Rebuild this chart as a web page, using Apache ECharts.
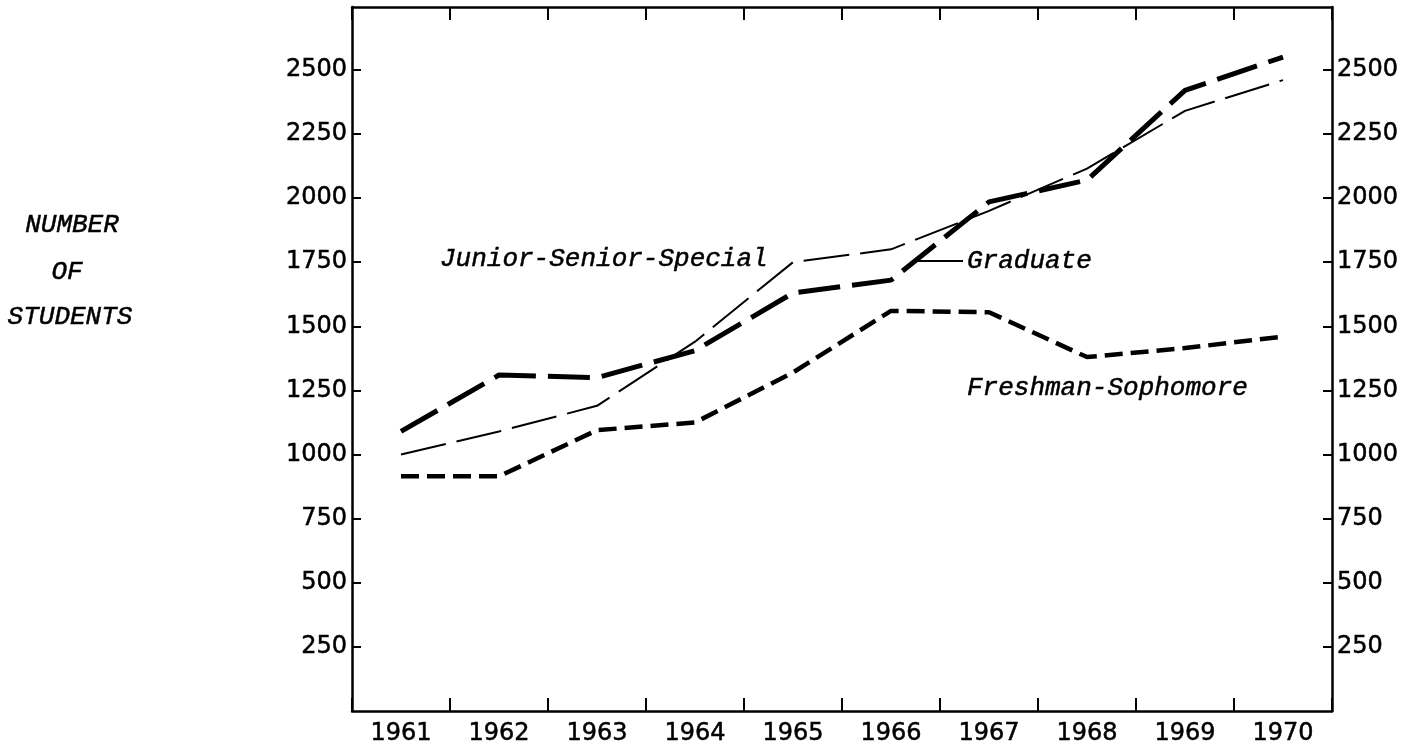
<!DOCTYPE html>
<html>
<head>
<meta charset="utf-8">
<script src="https://cdn.jsdelivr.net/npm/echarts@6/dist/echarts.min.js"></script>
<style>
  html, body { margin: 0; padding: 0; background: #fff; }
  #chart { width: 1414px; height: 751px; }
</style>
</head>
<body>
<div id="chart"></div>
<script>
const chart = echarts.init(document.getElementById('chart'));

// data
const years = ['1961', '1962', '1963', '1964', '1965', '1966', '1967', '1968', '1969', '1970'];
const graduate = [1090, 1310, 1300, 1405, 1630, 1680, 1985, 2070, 2420, 2550];
const juniorSenior = [1000, 1090, 1190, 1440, 1750, 1800, 1950, 2115, 2340, 2460];
const freshSoph = [915, 915, 1095, 1125, 1320, 1560, 1555, 1380, 1415, 1460];

const yTicks = [250, 500, 750, 1000, 1250, 1500, 1750, 2000, 2250, 2500];
const titleLines = ['NUMBER', 'OF', 'STUDENTS'];

const axisFont = 'DejaVu Sans';
const typeFont = 'Liberation Mono';

function tickLabel(v) {
	return yTicks.indexOf(v) >= 0 ? String(v) : '';
}

function valueAxis(pos) {
	return {
		type: 'value',
		position: pos,
		min: 0,
		max: 2745,
		interval: 250,
		splitLine: { show: false },
		axisLine: { show: true, onZero: false, lineStyle: { color: '#000', width: 2.5 } },
		axisTick: { show: true, inside: true, length: 9, lineStyle: { color: '#000', width: 2 } },
		axisLabel: {
			show: true,
			margin: 5,
			color: '#000',
			fontFamily: axisFont,
			fontSize: 24,
			textBorderColor: '#000',
			textBorderWidth: 0.5,
			showMinLabel: false,
			showMaxLabel: false,
			formatter: tickLabel
		}
	};
}

function catAxis(pos, labels) {
	return {
		type: 'category',
		position: pos,
		data: years,
		boundaryGap: true,
		axisLine: { show: true, onZero: false, lineStyle: { color: '#000', width: 2.5 } },
		axisTick: { show: true, inside: true, length: 13, interval: 0, lineStyle: { color: '#000', width: 2 } },
		axisLabel: {
			show: labels,
			interval: 0,
			margin: 11,
			color: '#000',
			fontFamily: axisFont,
			fontSize: 24,
			textBorderColor: '#000',
			textBorderWidth: 0.5
		},
		splitLine: { show: false }
	};
}

function typed(text, x, y, align) {
	return {
		type: 'text',
		x: x,
		y: y,
		style: {
			text: text,
			fill: '#000',
			font: 'italic 26px "' + typeFont + '"',
			stroke: '#000',
			lineWidth: 0.5,
			align: align || 'left',
			verticalAlign: 'middle'
		}
	};
}

const option = {
	backgroundColor: '#fff',
	animation: false,
	grid: { left: 352, right: 82, top: 7, bottom: 40 },
	xAxis: [catAxis('bottom', true), catAxis('top', false)],
	yAxis: [valueAxis('left'), valueAxis('right')],
	series: [
		{
			name: 'Graduate',
			type: 'line',
			data: graduate,
			symbol: 'none',
			lineStyle: { color: '#000', width: 5, type: [42, 12] }
		},
		{
			name: 'Junior-Senior-Special',
			type: 'line',
			data: juniorSenior,
			symbol: 'none',
			lineStyle: { color: '#000', width: 2, type: [46, 11] }
		},
		{
			name: 'Freshman-Sophomore',
			type: 'line',
			data: freshSoph,
			symbol: 'none',
			lineStyle: { color: '#000', width: 4.5, type: [18, 8] }
		}
	]
};

chart.setOption(option);

// leader line from the Graduate curve (1966 -> 1967 segment) to its label
const labelY = 261;
const pa = chart.convertToPixel({ seriesIndex: 0 }, [5, graduate[5]]);
const pb = chart.convertToPixel({ seriesIndex: 0 }, [6, graduate[6]]);
const leadX = pa[0] + (pb[0] - pa[0]) * (pa[1] - labelY) / (pa[1] - pb[1]);

chart.setOption({
	graphic: [
		typed('Junior-Senior-Special', 440, 259),
		typed('Graduate', 967, 261),
		typed('Freshman-Sophomore', 967, 388),
		{
			type: 'line',
			shape: { x1: leadX, y1: labelY, x2: 963, y2: labelY },
			style: { stroke: '#000', lineWidth: 2 }
		},
		typed(titleLines[0], 72, 225, 'center'),
		typed(titleLines[1], 67, 272, 'center'),
		typed(titleLines[2], 70, 317, 'center')
	]
});

window.addEventListener('resize', () => {
	chart.resize();
});
</script>
</body>
</html>
